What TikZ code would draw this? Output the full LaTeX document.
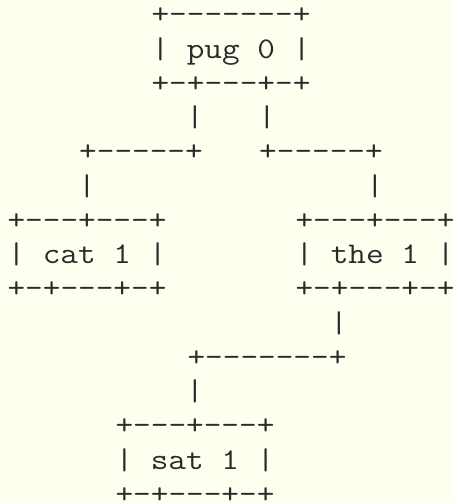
\documentclass[tikz,border=0pt]{standalone}
\usepackage{fontspec}
\setmonofont{Latin Modern Mono}
\definecolor{bgcol}{HTML}{FFFFF0}
\definecolor{inkcol}{HTML}{2B2B2B}
\tikzset{
  asc/.style={anchor=base, inner sep=0pt, outer sep=0pt, xscale=1.143,
    text=inkcol, font=\ttfamily\fontsize{30}{34}\selectfont}
}
% column centre and row baseline (pixels, y downward)
\newcommand{\cx}[1]{15+18.0*#1}
\newcommand{\ry}[1]{23.8+34.26*#1}
\begin{document}
\begin{tikzpicture}[x=1pt,y=-1pt]
\fill[bgcol] (0,0) rectangle (453,503);
\useasboundingbox (0,0) rectangle (453,503);
% pug box
\node[asc] (pugtop) at ({\cx{12}},{\ry{0}}) {+-------+};
\node[asc] (pug)    at ({\cx{12}},{\ry{1}}) {| pug 0 |};
\node[asc] (pugbot) at ({\cx{12}},{\ry{2}}) {+-+---+-+};
\node[asc] (vl1) at ({\cx{10}},{\ry{3}}) {|};
\node[asc] (vr1) at ({\cx{14}},{\ry{3}}) {|};
\node[asc] (hl1) at ({\cx{7}},{\ry{4}})  {+-----+};
\node[asc] (hr1) at ({\cx{17}},{\ry{4}}) {+-----+};
\node[asc] (vl2) at ({\cx{4}},{\ry{5}})  {|};
\node[asc] (vr2) at ({\cx{20}},{\ry{5}}) {|};
% cat box
\node[asc] (cattop) at ({\cx{4}},{\ry{6}}) {+---+---+};
\node[asc] (cat)    at ({\cx{4}},{\ry{7}}) {| cat 1 |};
\node[asc] (catbot) at ({\cx{4}},{\ry{8}}) {+-+---+-+};
% the box
\node[asc] (thetop) at ({\cx{20}},{\ry{6}}) {+---+---+};
\node[asc] (the)    at ({\cx{20}},{\ry{7}}) {| the 1 |};
\node[asc] (thebot) at ({\cx{20}},{\ry{8}}) {+-+---+-+};
\node[asc] (vr3) at ({\cx{18}},{\ry{9}})  {|};
\node[asc] (hr2) at ({\cx{14}},{\ry{10}}) {+-------+};
\node[asc] (vl3) at ({\cx{10}},{\ry{11}}) {|};
% sat box
\node[asc] (sattop) at ({\cx{10}},{\ry{12}}) {+---+---+};
\node[asc] (sat)    at ({\cx{10}},{\ry{13}}) {| sat 1 |};
\node[asc] (satbot) at ({\cx{10}},{\ry{14}}) {+-+---+-+};
\end{tikzpicture}
\end{document}
